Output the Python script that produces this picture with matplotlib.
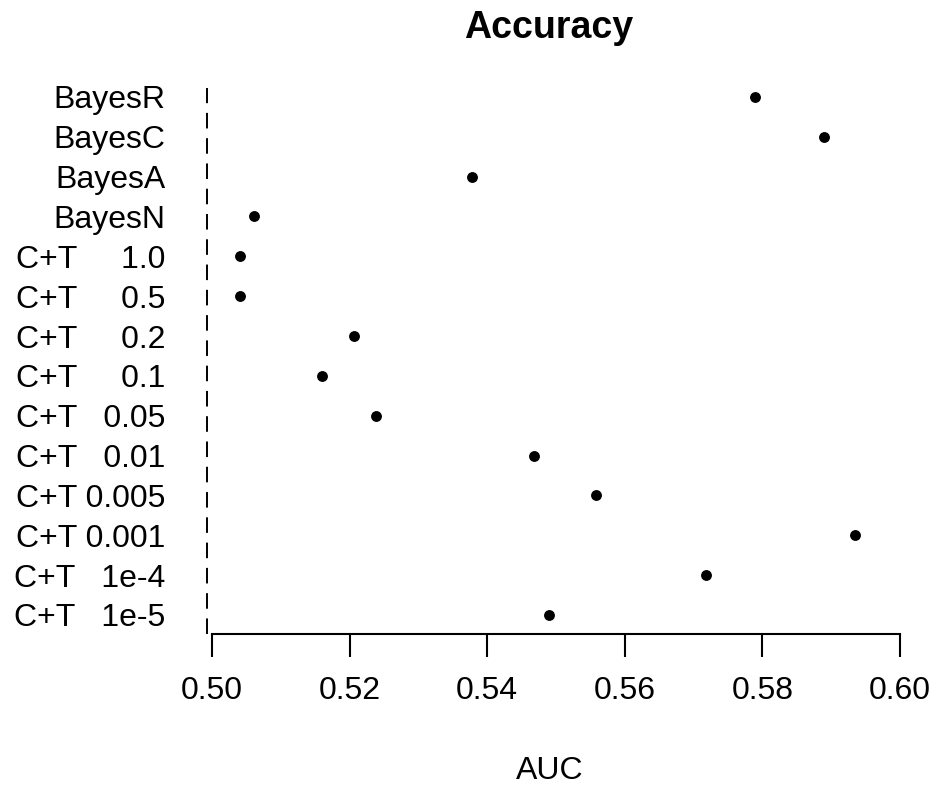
import matplotlib.pyplot as plt

plt.rcParams['font.family'] = ['Liberation Sans', 'DejaVu Sans']

# rows from top to bottom
labels = [
    'BayesR',
    'BayesC',
    'BayesA',
    'BayesN',
    'C+T     1.0',
    'C+T     0.5',
    'C+T     0.2',
    'C+T     0.1',
    'C+T   0.05',
    'C+T   0.01',
    'C+T 0.005',
    'C+T 0.001',
    'C+T   1e-4',
    'C+T   1e-5',
]

auc = [0.5789, 0.5890, 0.5378, 0.5061, 0.5041, 0.5041, 0.5206,
       0.5160, 0.5238, 0.5468, 0.5558, 0.5935, 0.5718, 0.5490]

xticks = [0.50, 0.52, 0.54, 0.56, 0.58, 0.60]
ref_line = 0.4993

fig = plt.figure(figsize=(9.39, 7.87), dpi=100)
ax = fig.add_axes([200 / 939, 1 - 634 / 787, 712 / 939, 546 / 787])

n = len(labels)
ypos = list(range(n, 0, -1))

ax.plot(auc, ypos, 'o', color='black', markersize=6.8, linestyle='none')
ax.axvline(ref_line, color='black', linewidth=1.4, linestyle=(0, (8, 5)))

ax.set_xlim(0.49826, 0.60174)
ax.set_ylim(1 - 19 / 39.85, 1 + 527 / 39.85)

for side in ['top', 'right', 'left']:
    ax.spines[side].set_visible(False)
ax.spines['bottom'].set_bounds(0.50, 0.60)
ax.spines['bottom'].set_linewidth(1.5)

ax.set_xticks(xticks)
ax.set_xticklabels([f'{t:.2f}' for t in xticks])
ax.tick_params(axis='x', length=16.5, width=1.5, pad=14, labelsize=23)

ax.set_yticks(ypos)
ax.set_yticklabels(labels)
ax.tick_params(axis='y', length=0, pad=25, labelsize=23)

fig.text(549 / 939, 1 - 38 / 787, 'Accuracy', ha='center', va='baseline',
         fontsize=27, fontweight='bold')
fig.text(550 / 939, 1 - 779 / 787, 'AUC', ha='center', va='baseline',
         fontsize=23)

plt.savefig('out.png', dpi=100)
